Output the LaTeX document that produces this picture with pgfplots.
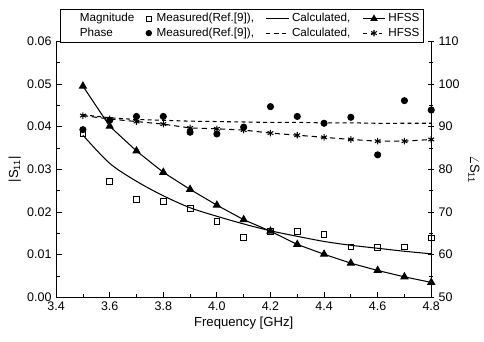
\documentclass[border=0pt]{standalone}
\usepackage{pgfplots}
\pgfplotsset{compat=1.18}
\usepackage{fontspec}
\setmainfont{Liberation Sans}
\usetikzlibrary{calc}
\begin{document}
\begin{tikzpicture}
\pgfplotsset{
  common/.style={
    scale only axis, width=285.75pt, height=195pt,
    xmin=3.4, xmax=4.8,
    /pgf/number format/assume math mode=true,
    tick label style={font=\fontsize{9.5}{11}\selectfont},
    label style={font=\fontsize{10}{12}\selectfont},
    tick style={black, line width=0.6pt},
    axis line style={line width=0.8pt},
    every axis plot/.append style={line width=0.8pt},
  }
}
\begin{axis}[common, name=ax,
  axis y line*=left, axis x line*=bottom,
  tick align=inside,
  ymin=0, ymax=0.06,
  xtick={3.4,3.6,...,4.8}, minor x tick num=1,
  ytick={0,0.01,...,0.06}, minor y tick num=1,
  xticklabel style={/pgf/number format/.cd, fixed, fixed zerofill, precision=1},
  yticklabel style={/pgf/number format/.cd, fixed, fixed zerofill, precision=2},
  scaled y ticks=false,
  xlabel={Frequency [GHz]},
  ylabel={|S\textsubscript{11}|},
  xlabel style={yshift=2pt},
  ylabel style={yshift=-2pt},
]
% measured magnitude
\addplot[only marks, mark=square, mark size=2.2pt, mark options={line width=0.7pt}] coordinates {
(3.5,0.0383) (3.6,0.0272) (3.7,0.0229) (3.8,0.0225) (3.9,0.0208) (4.0,0.0177) (4.1,0.0141)
(4.2,0.0155) (4.3,0.0155) (4.4,0.0147) (4.5,0.0118) (4.6,0.0116) (4.7,0.0118) (4.8,0.0139)};
% calculated magnitude
\addplot[black, smooth, no marks] coordinates {
(3.5,0.0380) (3.6,0.0314) (3.7,0.0272) (3.8,0.0238) (3.9,0.0210) (4.0,0.0190) (4.1,0.0172)
(4.2,0.0156) (4.3,0.0143) (4.4,0.0131) (4.5,0.0122) (4.6,0.0115) (4.7,0.0108) (4.8,0.0102)};
% HFSS magnitude
\addplot[black, mark=triangle*, mark size=3pt] coordinates {
(3.5,0.0495) (3.6,0.0401) (3.7,0.0343) (3.8,0.0293) (3.9,0.0253) (4.0,0.0216) (4.1,0.0182)
(4.2,0.0155) (4.3,0.0124) (4.4,0.0101) (4.5,0.0080) (4.6,0.0063) (4.7,0.0048) (4.8,0.0035)};
\end{axis}
\begin{axis}[common,
  axis y line*=right, axis x line=none,
  tick align=center,
  ymin=50, ymax=110,
  ytick={50,60,...,110}, minor y tick num=1,
  ylabel={$\angle$S\textsubscript{11}},
  ylabel style={rotate=180, yshift=0pt},
  legend columns=4,
  legend cell align=left,
  legend style={at={(0.495,1)}, anchor=south, yshift=-1pt,
    font=\fontsize{8.9}{10}\selectfont, draw=black, line width=0.6pt,
    inner sep=1pt, row sep=-1pt,
    /tikz/every even column/.append style={column sep=7pt}},
]
\addlegendimage{empty legend}\addlegendentry{\hspace{12pt}Magnitude\hspace{6pt}}
\addlegendimage{only marks, mark=square, mark size=2pt}\addlegendentry{\hspace{2pt}Measured(Ref.[9]),}
\addlegendimage{black, no marks, line width=0.8pt}\addlegendentry{Calculated,}
\addlegendimage{black, mark=triangle*, mark size=2.5pt, line width=0.8pt}\addlegendentry{HFSS}
\addlegendimage{empty legend}\addlegendentry{\hspace{12pt}Phase}
\addlegendimage{only marks, mark=*, mark size=2pt}\addlegendentry{\hspace{2pt}Measured(Ref.[9]),}
\addlegendimage{black, dashed, no marks, line width=0.8pt}\addlegendentry{Calculated,}
\addlegendimage{black, dash pattern=on 3pt off 3pt, mark=asterisk, mark size=2.5pt, mark options={solid}, line width=0.8pt}\addlegendentry{HFSS}
% measured phase
\addplot[forget plot, only marks, mark=*, mark size=2.3pt] coordinates {
(3.5,89.3) (3.6,91.5) (3.7,92.4) (3.8,92.4) (3.9,88.7) (4.0,88.3) (4.1,89.9)
(4.2,94.7) (4.3,92.4) (4.4,90.8) (4.5,92.2) (4.6,83.4) (4.7,96.1) (4.8,93.9)};
% calculated phase
\addplot[forget plot, black, dash pattern=on 3pt off 2.5pt, smooth, no marks] coordinates {
(3.5,92.8) (3.6,92.1) (3.7,91.7) (3.8,91.5) (3.9,91.3) (4.0,91.2) (4.1,91.1)
(4.2,91.0) (4.3,91.0) (4.4,90.9) (4.5,90.9) (4.6,90.8) (4.7,90.8) (4.8,90.8)};
% HFSS phase
\addplot[forget plot, black, dash pattern=on 4pt off 3pt, mark=asterisk, mark size=2.5pt, mark options={solid}] coordinates {
(3.5,92.6) (3.6,91.8) (3.7,91.2) (3.8,90.6) (3.9,89.7) (4.0,89.5) (4.1,89.2)
(4.2,88.5) (4.3,88.0) (4.4,87.5) (4.5,87.0) (4.6,86.6) (4.7,86.6) (4.8,87.0)};
\end{axis}
\useasboundingbox ($(ax.south west)+(-42.75pt,-33.75pt)$) rectangle ($(ax.north east)+(34.5pt,31.5pt)$);
\end{tikzpicture}
\end{document}
